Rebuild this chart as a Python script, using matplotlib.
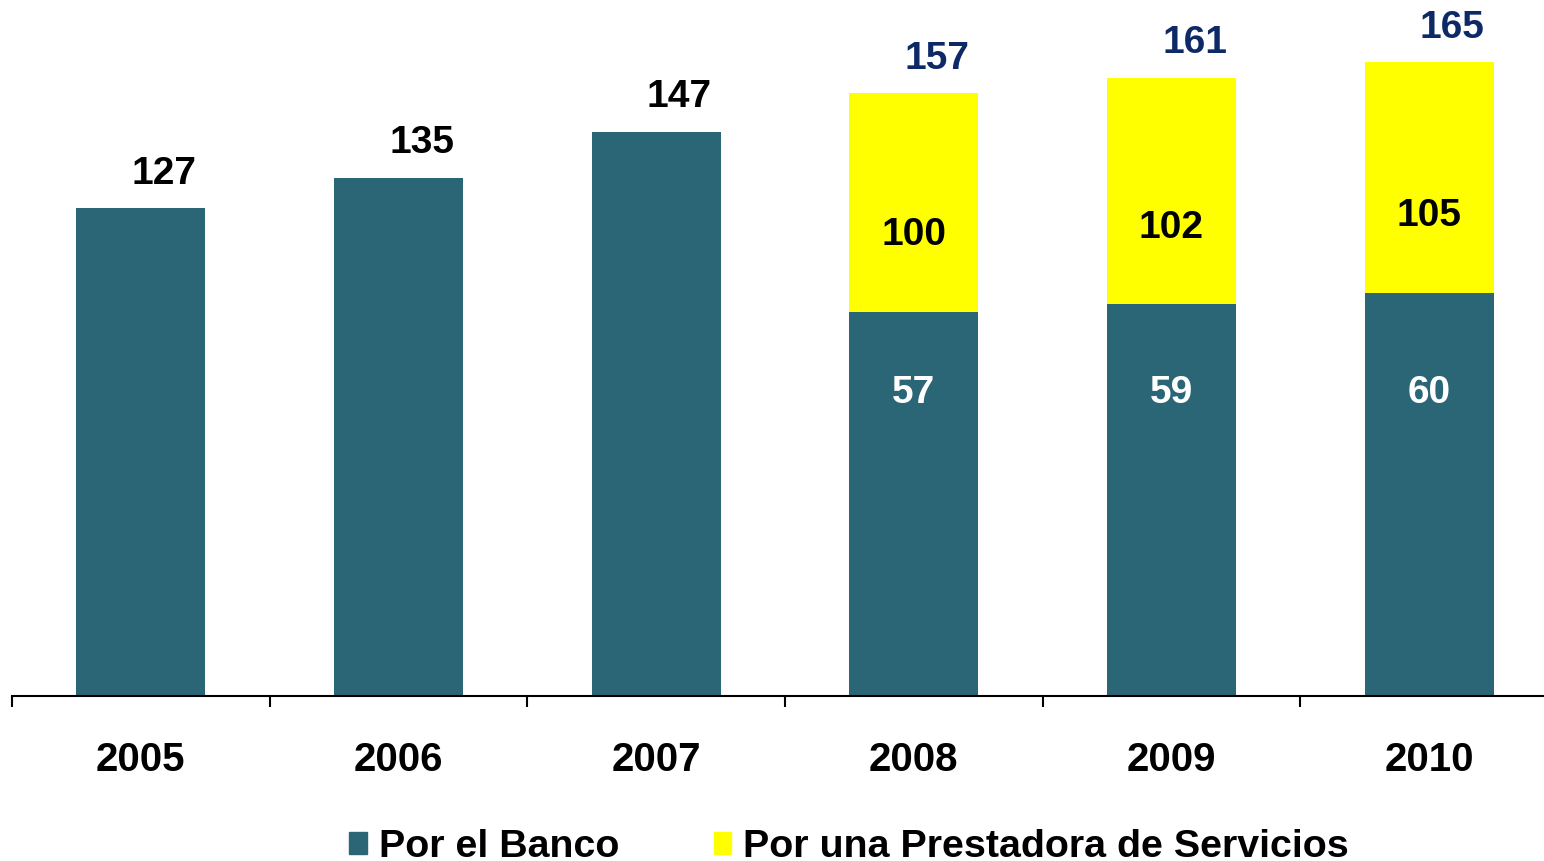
import matplotlib
matplotlib.use("Agg")
import matplotlib.pyplot as plt
from matplotlib.patches import Patch
import numpy as np

plt.rcParams['font.family'] = ['Liberation Sans', 'DejaVu Sans']
plt.rcParams['font.weight'] = 'bold'

years = ['2005', '2006', '2007', '2008', '2009', '2010']
# heights as drawn in the chart (teal lower segment, yellow upper segment)
banco = [127, 135, 147, 100, 102, 105]
prestadora = [0, 0, 0, 57, 59, 60]
totals = [127, 135, 147, 157, 161, 165]
# labels as printed inside the segments
banco_labels = ['', '', '', '57', '59', '60']
prest_labels = ['', '', '', '100', '102', '105']

teal = '#2B6676'
yellow = '#FFFF00'
navy = '#0D2A66'

fig = plt.figure(figsize=(15.44, 8.61), dpi=100)
ax = fig.add_axes([12/1544, 165/861, 1546/1544, 696/861])

x = np.arange(len(years))
ax.bar(x, banco, width=0.5, color=teal)
ax.bar(x, prestadora, width=0.5, bottom=banco, color=yellow)

ax.set_xlim(-0.5, 5.5)
ax.set_ylim(0, 696/3.84)

for i in range(len(years)):
    col = 'black' if prestadora[i] == 0 else navy
    ax.text(x[i] + 0.09, totals[i] + 9, str(totals[i]), ha='center', va='center',
            fontsize=28, fontweight='bold', color=col)
    if banco_labels[i]:
        ax.text(x[i], 79, banco_labels[i], ha='center', va='center',
                fontsize=28, fontweight='bold', color='white')
    if prest_labels[i]:
        ax.text(x[i], banco[i] + 20, prest_labels[i], ha='center', va='center',
                fontsize=28, fontweight='bold', color='black')

for s in ['top', 'right', 'left']:
    ax.spines[s].set_visible(False)
ax.spines['bottom'].set_linewidth(1.5)
ax.set_yticks([])
ax.set_xticks(x)
ax.set_xticklabels(years, fontsize=29, fontweight='bold')
ax.tick_params(axis='x', which='major', length=0, pad=32.5)
ax.set_xticks(np.arange(-0.5, 6.0, 1.0), minor=True)
ax.tick_params(axis='x', which='minor', length=8, width=1.5, direction='out')

handles = [Patch(color=teal, label='Por el Banco'),
           Patch(color=yellow, label='Por una Prestadora de Servicios')]
fig.legend(handles=handles, loc='lower left', bbox_to_anchor=(349/1544, -4/861),
           ncol=2, frameon=False, borderpad=0, borderaxespad=0,
           handlelength=0.45, handleheight=0.47, handletextpad=0.3, columnspacing=2.4,
           prop={'weight': 'bold', 'size': 28.4})

fig.savefig('out.png', dpi=100)
